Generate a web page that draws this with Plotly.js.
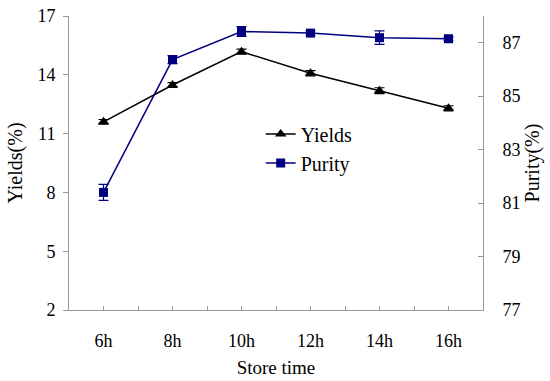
<!DOCTYPE html>
<html>
<head>
<meta charset="utf-8">
<script src="https://cdn.plot.ly/plotly-3.0.1.min.js"></script>
<style>html,body{margin:0;padding:0;background:#fff;}#chart{width:550px;height:381px;}</style>
</head>
<body>
<div id="chart"></div>
<script>
var categories = ["6h", "8h", "10h", "12h", "14h", "16h"];
var yields = [11.6, 13.48, 15.18, 14.08, 13.19, 12.29];
var yieldsErr = [0.12, 0.12, 0.13, 0.13, 0.15, 0.13];
var purity = [81.4, 86.37, 87.42, 87.36, 87.19, 87.15];
var purityErr = [0.3, 0.15, 0.18, 0.08, 0.25, 0.06];
var leftTicks = [2, 5, 8, 11, 14, 17];
var rightTicks = [77, 79, 81, 83, 85, 87];

var fontFam = "Liberation Serif, Times New Roman, serif";

var traces = [
  {
    x: categories, y: yields, name: "Yields", type: "scatter", mode: "lines+markers",
    line: {color: "#000000", width: 1.5},
    marker: {symbol: "triangle-up", size: 10, color: "#000000"},
    error_y: {type: "data", array: yieldsErr, visible: true, color: "#000000", thickness: 1.2, width: 5},
    xaxis: "x", yaxis: "y"
  },
  {
    x: categories, y: purity, name: "Purity", type: "scatter", mode: "lines+markers",
    line: {color: "#000080", width: 1.5},
    marker: {symbol: "square", size: 9, color: "#000080"},
    error_y: {type: "data", array: purityErr, visible: true, color: "#000080", thickness: 1.2, width: 5},
    xaxis: "x", yaxis: "y2"
  }
];

var layout = {
  width: 550, height: 381,
  margin: {l: 69, r: 67, t: 16, b: 71},
  paper_bgcolor: "#ffffff", plot_bgcolor: "#ffffff",
  font: {family: fontFam, size: 18, color: "#000"},
  showlegend: true,
  legend: {x: 0.463, y: 0.665, xanchor: "left", yanchor: "top", bgcolor: "rgba(0,0,0,0)",
           font: {family: fontFam, size: 20, color: "#000"}, tracegroupgap: 0, itemwidth: 30},
  xaxis: {
    type: "category", range: [-0.5, 5.5], showline: true, linecolor: "#999", linewidth: 1,
    ticks: "", showgrid: false, zeroline: false, automargin: false,
    tickfont: {family: fontFam, size: 18}, ticklabelstandoff: 14,
    title: {text: "Store time", font: {family: fontFam, size: 19}, standoff: 11}
  },
  xaxis2: {
    overlaying: "x", anchor: "y", range: [-0.5, 5.5], tick0: -0.5, dtick: 0.5,
    ticks: "inside", ticklen: 4, tickcolor: "#999", showticklabels: false,
    showgrid: false, zeroline: false, showline: false
  },
  yaxis: {
    range: [2, 17], tickvals: leftTicks, ticktext: leftTicks.map(String),
    showline: true, linecolor: "#999", linewidth: 1, ticks: "outside", ticklen: 5, tickcolor: "#999",
    showgrid: false, zeroline: false, automargin: false,
    tickfont: {family: fontFam, size: 18}, ticklabelstandoff: 4,
    title: {text: "Yields(%)", font: {family: fontFam, size: 20}, standoff: 9}
  },
  yaxis2: {
    overlaying: "y", side: "right", range: [77, 88], tickvals: rightTicks, ticktext: rightTicks.map(String),
    showline: true, linecolor: "#999", linewidth: 1, ticks: "inside", ticklen: 5, tickcolor: "#999",
    showgrid: false, zeroline: false, automargin: false,
    tickfont: {family: fontFam, size: 18}, ticklabelstandoff: 15,
    title: {text: "Purity(%)", font: {family: fontFam, size: 20}, standoff: 4}
  }
};

traces.push({x: [0], y: [null], xaxis: "x2", yaxis: "y", showlegend: false, hoverinfo: "skip", type: "scatter", mode: "markers"});

Plotly.newPlot("chart", traces, layout, {displayModeBar: false, staticPlot: true});
</script>
</body>
</html>
